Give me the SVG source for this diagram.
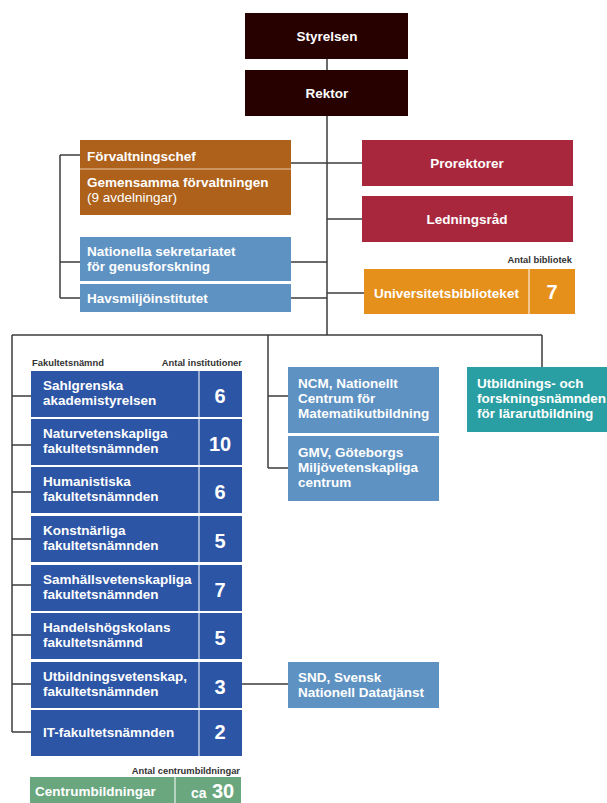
<svg xmlns="http://www.w3.org/2000/svg" width="607" height="803" viewBox="0 0 607 803">
<style>
text{font-family:"Liberation Sans",Arial,sans-serif;font-weight:bold;fill:#fff;font-size:13.5px}
.c{text-anchor:middle}
.n{font-size:20px;text-anchor:middle}
.r{font-weight:normal}
.sm{font-size:9.4px;fill:#333}
.e{text-anchor:end}
.ln{fill:none;stroke:#3c3c3c;stroke-width:1.5}
.dv{stroke:#fff;stroke-width:1.2;opacity:.85}
</style>
<rect width="607" height="803" fill="#fff"/>
<g id="connectors" class="ln">
<path d="M327 59V70M327 116V335"/>
<path d="M60 155H80M60 155V298M60 262H80M60 298H80"/>
<path d="M291 163H362M291 262H327M291 298H327M327 219H362M327 293H364"/>
<path d="M12 335H542M12 335V732M268 335V468M542 335V367"/>
<path d="M12 396H31M12 445H31M12 492H31M12 539H31M12 585H31M12 635H31M12 684H31M12 732H31"/>
<path d="M268 396H288M268 468H288M242 684H288"/>
</g>
<g id="styrelsen"><rect x="245" y="13" width="163" height="46" fill="#270000"/><text class="c" x="327" y="41">Styrelsen</text></g>
<g id="rektor"><rect x="245" y="70" width="163" height="46" fill="#270000"/><text class="c" x="327" y="98">Rektor</text></g>
<g id="forvaltning"><rect x="80" y="140" width="211" height="75" fill="#AD611B"/><line x1="80" y1="169" x2="291" y2="169" stroke="#e6c7a6" stroke-width="1"/>
<text x="87" y="161">Förvaltningschef</text><text x="87" y="187">Gemensamma förvaltningen</text><text class="r" x="87" y="202">(9 avdelningar)</text></g>
<g id="nationella"><rect x="80" y="237" width="211" height="44" fill="#5E92C2"/><text x="87" y="256">Nationella sekretariatet</text><text x="87" y="271">för genusforskning</text></g>
<g id="havsmiljo"><rect x="80" y="284" width="211" height="28" fill="#5E92C2"/><text x="87" y="303">Havsmiljöinstitutet</text></g>
<g id="prorektorer"><rect x="362" y="140" width="211" height="46" fill="#A8273D"/><text class="c" x="467" y="168">Prorektorer</text></g>
<g id="ledningsrad"><rect x="362" y="196" width="211" height="46" fill="#A8273D"/><text class="c" x="467" y="224">Ledningsråd</text></g>
<g id="ub"><text class="sm e" x="572" y="263">Antal bibliotek</text><rect x="364" y="269" width="211" height="45" fill="#E6901C"/><line class="dv" x1="529" y1="269" x2="529" y2="314"/>
<text class="c" x="446.5" y="298">Universitetsbiblioteket</text><text class="n" x="552" y="299">7</text></g>
<g id="faculty-labels"><text class="sm" x="32" y="366">Fakultetsnämnd</text><text class="sm e" x="242" y="366">Antal institutioner</text></g>
<g id="sahlgrenska"><rect x="31" y="371" width="211" height="46" fill="#2C55A6"/><line class="dv" x1="199" y1="371" x2="199" y2="417"/><text x="43" y="390">Sahlgrenska</text><text x="43" y="405">akademistyrelsen</text><text class="n" x="220" y="403">6</text></g>
<g id="naturvet"><rect x="31" y="419" width="211" height="46" fill="#2C55A6"/><line class="dv" x1="199" y1="419" x2="199" y2="465"/><text x="43" y="438">Naturvetenskapliga</text><text x="43" y="453">fakultetsnämnden</text><text class="n" x="220" y="451">10</text></g>
<g id="humanistiska"><rect x="31" y="467" width="211" height="46" fill="#2C55A6"/><line class="dv" x1="199" y1="467" x2="199" y2="513"/><text x="43" y="486">Humanistiska</text><text x="43" y="501">fakultetsnämnden</text><text class="n" x="220" y="499">6</text></g>
<g id="konstnarliga"><rect x="31" y="516" width="211" height="46" fill="#2C55A6"/><line class="dv" x1="199" y1="516" x2="199" y2="562"/><text x="43" y="535">Konstnärliga</text><text x="43" y="550">fakultetsnämnden</text><text class="n" x="220" y="548">5</text></g>
<g id="samhallsvet"><rect x="31" y="565" width="211" height="46" fill="#2C55A6"/><line class="dv" x1="199" y1="565" x2="199" y2="611"/><text x="43" y="584">Samhällsvetenskapliga</text><text x="43" y="599">fakultetsnämnden</text><text class="n" x="220" y="597">7</text></g>
<g id="handels"><rect x="31" y="613" width="211" height="46" fill="#2C55A6"/><line class="dv" x1="199" y1="613" x2="199" y2="659"/><text x="43" y="632">Handelshögskolans</text><text x="43" y="647">fakultetsnämnd</text><text class="n" x="220" y="645">5</text></g>
<g id="utbildningsvet"><rect x="31" y="662" width="211" height="46" fill="#2C55A6"/><line class="dv" x1="199" y1="662" x2="199" y2="708"/><text x="43" y="681">Utbildningsvetenskap,</text><text x="43" y="696">fakultetsnämnden</text><text class="n" x="220" y="694">3</text></g>
<g id="it"><rect x="31" y="710" width="211" height="46" fill="#2C55A6"/><line class="dv" x1="199" y1="710" x2="199" y2="756"/><text x="43" y="737">IT-fakultetsnämnden</text><text class="n" x="220" y="739">2</text></g>
<g id="ncm"><rect x="288" y="367" width="151" height="66" fill="#5E92C2"/><text x="298" y="388">NCM, Nationellt</text><text x="298" y="403">Centrum för</text><text x="298" y="418">Matematikutbildning</text></g>
<g id="gmv"><rect x="288" y="436" width="151" height="65" fill="#5E92C2"/><text x="298" y="457">GMV, Göteborgs</text><text x="298" y="472">Miljövetenskapliga</text><text x="298" y="487">centrum</text></g>
<g id="ufl"><rect x="467" y="367" width="140" height="65" fill="#2A9FA3"/><text x="477" y="388">Utbildnings- och</text><text x="477" y="403">forskningsnämnden</text><text x="477" y="418">för lärarutbildning</text></g>
<g id="snd"><rect x="288" y="662" width="151" height="46" fill="#5E92C2"/><text x="298" y="682">SND, Svensk</text><text x="298" y="697">Nationell Datatjänst</text></g>
<g id="centrum"><text class="sm e" x="240" y="774">Antal centrumbildningar</text><rect x="30" y="777" width="211" height="30" fill="#6AA77F"/><line class="dv" x1="175" y1="777" x2="175" y2="803"/>
<text x="35" y="796">Centrumbildningar</text><text x="191" y="798" style="font-size:14px">ca</text><text x="212" y="798" style="font-size:20px">30</text></g>
</svg>
